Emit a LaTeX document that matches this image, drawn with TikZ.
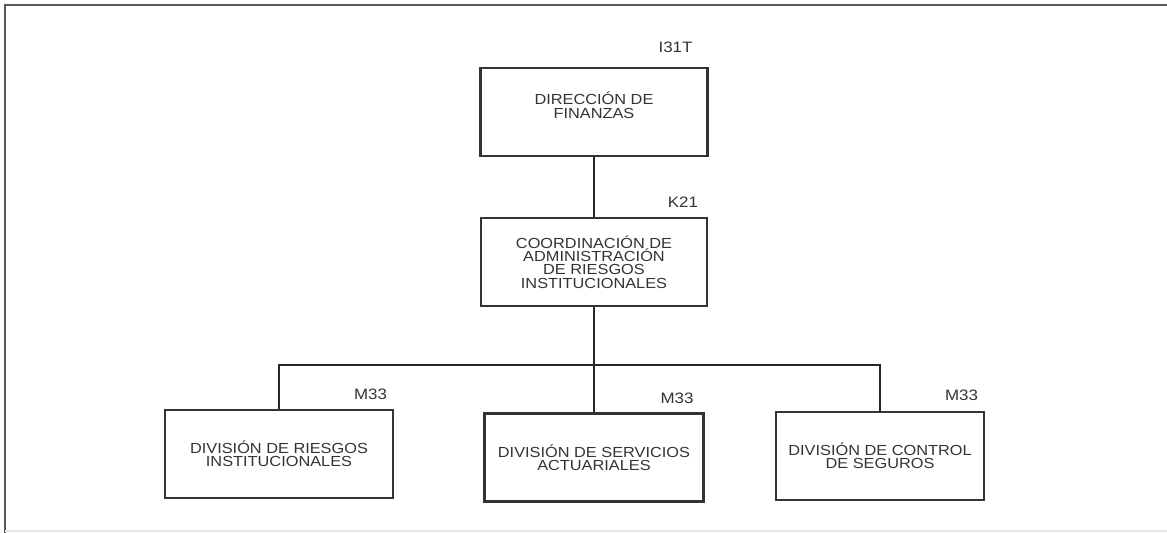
\documentclass[tikz,border=0pt]{standalone}
\usepackage{fontspec}
\setmainfont{Liberation Sans}[FakeStretch=1.12]
\usetikzlibrary{positioning}

\begin{document}
\begin{tikzpicture}[
    x=0.02cm,
    y=-0.02cm,
    line width=1.2pt,
    % Unit boxes: plain frames, caps text in the middle
    unit/.style={
        rectangle,
        draw=black!80,
        fill=white,
        minimum height=1.76cm,
        align=center,
        text=black!80,
        font=\fontsize{8.3}{7.6}\selectfont,
        },
    % Position codes sit over the top right corner
    code/.style={
        inner sep=0pt,
        text=black!80,
        font=\fontsize{8.6}{9}\selectfont,
        },
    link/.style={draw=black!85},
    ]
    \useasboundingbox (0,0) rectangle (1167,533);

    % outer frame, cut at the right
    \draw[draw=black!65, line width=1.5pt] (1167,5) -- (5,5) -- (5,533);
    \draw[draw=black!10, line width=0.6pt] (5,531) -- (1167,531);

    \node [unit, minimum width=4.54cm] (fin) at (594,112)
        {DIRECCIÓN DE\\FINANZAS\\\mbox{}};
    \node [unit, minimum width=4.52cm] (coord) at (594,262)
        {COORDINACIÓN DE\\ADMINISTRACIÓN\\DE RIESGOS\\INSTITUCIONALES};
    \node [unit, minimum width=4.56cm] (riesgos) at (279,454)
        {DIVISIÓN DE RIESGOS\\INSTITUCIONALES};
    \node [unit, minimum width=4.38cm] (actuar) at (594,457.5)
        {DIVISIÓN DE SERVICIOS\\ACTUARIALES};
    \node [unit, minimum width=4.16cm] (seguros) at (880,456)
        {DIVISIÓN DE CONTROL\\DE SEGUROS};

    \node [code, above left=0.26cm and 0.3cm of fin.north east] (finCode) {I31T};
    \node [code, above left=0.16cm and 0.18cm of coord.north east] (coordCode) {K21};
    \node [code, above left=0.16cm and 0.12cm of riesgos.north east] (riesgosCode) {M33};
    \node [code, above left=0.16cm and 0.2cm of actuar.north east] (actuarCode) {M33};
    \node [code, above left=0.18cm and 0.12cm of seguros.north east] (segurosCode) {M33};

    \coordinate (bus) at (594,365);
    \draw [link] (fin.south) -- (coord.north);
    \draw [link] (coord.south) -- (actuar.north);
    \draw [link] (riesgos.north) |- (bus) -| (seguros.north);

\end{tikzpicture}
\end{document}
